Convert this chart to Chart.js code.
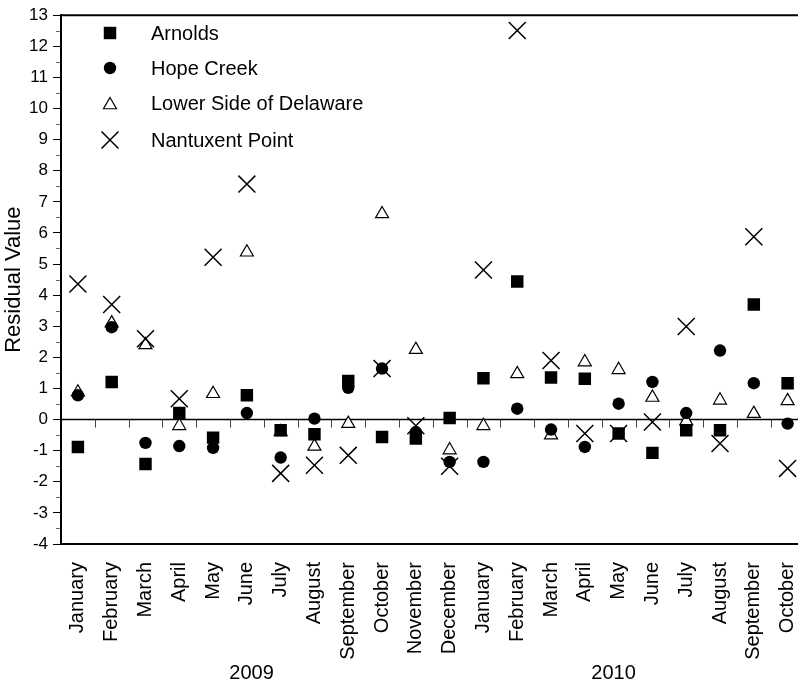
<!DOCTYPE html>
<html>
<head>
<meta charset="utf-8">
<script src="https://cdn.jsdelivr.net/npm/chart.js@4"></script>
<style>
  html, body { margin: 0; padding: 0; overflow: hidden; background: #fff; }
  #wrap { width: 818px; height: 684px; }
</style>
</head>
<body>
<div id="wrap"><canvas id="residualChart"></canvas></div>
<script>
const months = [
  "January", "February", "March", "April", "May", "June", "July", "August",
  "September", "October", "November", "December",
  "January", "February", "March", "April", "May", "June", "July", "August",
  "September", "October",
];
const years = ["2009", "2010"];
const yTicks = { min: -4, max: 13, step: 1 };

const arnolds = [
  -0.88, 1.21, -1.43, 0.21, -0.58, 0.78, -0.34, -0.47, 1.24, -0.56, -0.61, 0.05,
  1.33, 4.44, 1.35, 1.31, -0.45, -1.07, -0.34, -0.34, 3.7, 1.17,
];
const hopeCreek = [
  0.78, 2.97, -0.75, -0.85, -0.91, 0.21, -1.22, 0.03, 1.02, 1.64, -0.4, -1.36,
  -1.36, 0.35, -0.32, -0.88, 0.51, 1.21, 0.21, 2.22, 1.17, -0.13,
];
const lowerDelaware = [
  0.88, 3.1, 2.4, -0.2, 0.83, 5.38, -0.4, -0.86, -0.13, 6.61, 2.25, -0.98,
  -0.2, 1.47, -0.5, 1.85, 1.6, 0.71, -0.05, 0.62, 0.19, 0.6,
];
const nantuxent = [
  4.36, 3.7, 2.6, 0.67, 5.22, 7.57, -1.73, -1.47, -1.15, 1.64, -0.2, -1.5,
  4.81, 12.51, 1.9, -0.45, -0.45, -0.08, 2.99, -0.77, 5.88, -1.57,
];

const FONT = "'Liberation Sans', Arial, Helvetica, sans-serif";

// series styles, legend order
const series = [
  { label: "Arnolds", data: arnolds, pointStyle: "rect", pointRadius: 8.8,
    backgroundColor: "#000", borderColor: "#000", borderWidth: 0, order: 2 },
  { label: "Hope Creek", data: hopeCreek, pointStyle: "circle", pointRadius: 6.2,
    backgroundColor: "#000", borderColor: "#000", borderWidth: 0, order: 1 },
  { label: "Lower Side of Delaware", data: lowerDelaware, pointStyle: "triangle", pointRadius: 7.5,
    backgroundColor: "#fff", borderColor: "#000", borderWidth: 1.2, order: 3 },
  { label: "Nantuxent Point", data: nantuxent, pointStyle: "crossRot", pointRadius: 12,
    backgroundColor: "#000", borderColor: "#000", borderWidth: 1.5, order: 0 },
];

// zero line with month dividers, top frame line, minor y ticks
const framePlugin = {
  id: "frame",
  beforeDatasetsDraw(chart) {
    const { ctx, chartArea } = chart;
    const x = chart.scales.x;
    const y = chart.scales.y;
    const y0 = y.getPixelForValue(0);
    const step = chartArea.width / months.length;
    ctx.save();
    ctx.strokeStyle = "#000";
    ctx.lineWidth = 1.5;
    ctx.beginPath();
    ctx.moveTo(chartArea.left, y0);
    ctx.lineTo(chartArea.right, y0);
    ctx.stroke();
    ctx.lineWidth = 1;
    ctx.strokeStyle = "#444";
    for (let k = 1; k < months.length; k++) {
      const px = Math.round(x.left + k * step) + 0.5;
      ctx.beginPath();
      ctx.moveTo(px, y0);
      ctx.lineTo(px, y0 + 8);
      ctx.stroke();
    }
    ctx.strokeStyle = "#000";
    ctx.lineWidth = 2;
    ctx.beginPath();
    ctx.moveTo(chartArea.left - 1, chartArea.top);
    ctx.lineTo(chartArea.right, chartArea.top);
    ctx.stroke();
    ctx.lineWidth = 1;
    ctx.strokeStyle = "#666";
    for (let v = yTicks.min + 0.5; v < yTicks.max; v += 1) {
      const py = Math.round(y.getPixelForValue(v)) + 0.5;
      ctx.beginPath();
      ctx.moveTo(chartArea.left - 5, py);
      ctx.lineTo(chartArea.left - 1, py);
      ctx.stroke();
    }
    ctx.restore();
  },
  afterDraw(chart) {
    const { ctx } = chart;
    const x = chart.scales.x;
    ctx.save();
    // legend
    const markY = [33, 68, 105, 140];
    const textY = [39.5, 74.5, 110, 146.5];
    series.forEach((s, i) => {
      ctx.fillStyle = s.backgroundColor;
      ctx.strokeStyle = s.borderColor;
      ctx.lineWidth = s.borderWidth;
      Chart.helpers.drawPoint(ctx, {
        pointStyle: s.pointStyle,
        radius: s.pointRadius,
        rotation: 0,
        borderWidth: s.borderWidth,
      }, 110, markY[i]);
      ctx.fillStyle = "#000";
      ctx.font = "20px " + FONT;
      ctx.textAlign = "left";
      ctx.textBaseline = "alphabetic";
      ctx.fillText(s.label, 151, textY[i]);
    });
    // year captions under the month labels
    ctx.font = "20px " + FONT;
    ctx.textAlign = "center";
    ctx.textBaseline = "middle";
    ctx.fillStyle = "#000";
    ctx.fillText(years[0], x.getPixelForValue(5.14), 673);
    ctx.fillText(years[1], x.getPixelForValue(15.85), 673);
    ctx.restore();
  },
};

new Chart(document.getElementById("residualChart"), {
  type: "line",
  data: {
    labels: months,
    datasets: series.map((s) => ({
      ...s,
      showLine: false,
      pointHoverRadius: s.pointRadius,
      pointBackgroundColor: s.backgroundColor,
      pointBorderColor: s.borderColor,
      pointBorderWidth: s.borderWidth,
    })),
  },
  options: {
    responsive: true,
    maintainAspectRatio: false,
    animation: false,
    events: [],
    layout: { padding: { top: 14, right: 0, left: 0, bottom: 0 } },
    plugins: {
      legend: { display: false },
      tooltip: { enabled: false },
    },
    scales: {
      x: {
        type: "category",
        offset: true,
        grid: { display: false },
        border: { display: true, color: "#000", width: 2 },
        ticks: {
          minRotation: 90,
          maxRotation: 90,
          autoSkip: false,
          padding: 10,
          color: "#000",
          font: { family: FONT, size: 20 },
        },
        afterFit(scale) {
          scale.height = 140;
          // the plot runs right up to the edge
          scale.paddingLeft = 0;
          scale.paddingRight = 0;
        },
      },
      y: {
        min: yTicks.min,
        max: yTicks.max,
        ticks: {
          stepSize: yTicks.step,
          padding: 5,
          color: "#000",
          font: { family: FONT, size: 17 },
        },
        grid: {
          drawOnChartArea: false,
          drawTicks: true,
          tickLength: 8,
          color: "#000",
          lineWidth: 1,
        },
        border: { display: true, color: "#000", width: 2 },
        title: {
          display: true,
          text: "Residual Value",
          color: "#000",
          font: { family: FONT, size: 22 },
          padding: { top: 1, bottom: 0 },
        },
        afterFit(scale) {
          scale.width = 61;
        },
      },
    },
  },
  plugins: [framePlugin],
});
</script>
</body>
</html>
